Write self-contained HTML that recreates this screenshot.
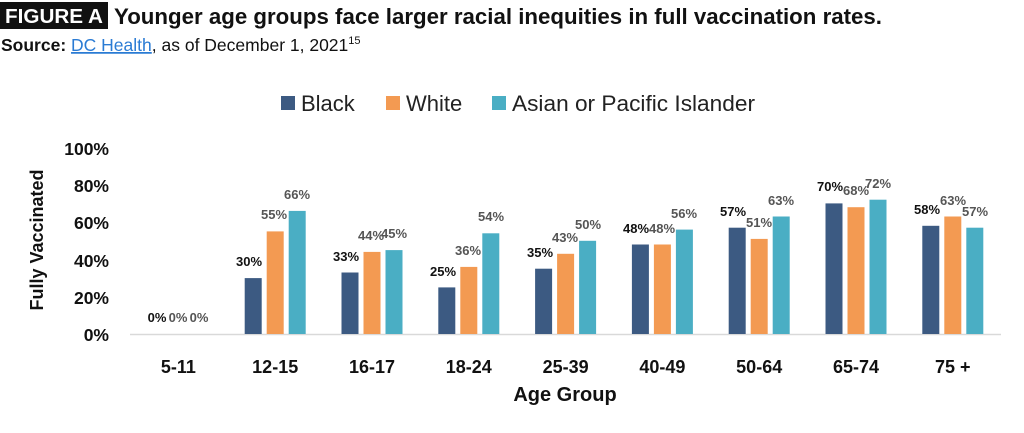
<!DOCTYPE html>
<html><head><meta charset="utf-8"><style>
body{margin:0;background:#fff;width:1024px;height:433px;overflow:hidden;font-family:"Liberation Sans",sans-serif}
</style></head><body>
<svg width="1024" height="433" xmlns="http://www.w3.org/2000/svg" style="position:absolute;left:0;top:0">
<rect x="0" y="2" width="108" height="27" fill="#111"/>
<text x="5" y="23" font-size="20" font-weight="bold" fill="#fff" textLength="98" lengthAdjust="spacingAndGlyphs">FIGURE A</text>
<text x="114" y="24" font-size="22" font-weight="bold" fill="#111" textLength="768" lengthAdjust="spacingAndGlyphs">Younger age groups face larger racial inequities in full vaccination rates.</text>
<text x="1" y="51" font-size="17.5" fill="#111"><tspan font-weight="bold">Source:</tspan> <tspan fill="#2a7bd4" text-decoration="underline">DC Health</tspan>, as of December 1, 2021<tspan font-size="11" dy="-7">15</tspan></text>

<rect x="281" y="96" width="14" height="14" fill="#3c5a82"/>
<text x="301" y="111" font-size="22" fill="#222">Black</text>
<rect x="386" y="96" width="14" height="14" fill="#f39a52"/>
<text x="406" y="111" font-size="22" fill="#222">White</text>
<rect x="492" y="96" width="14" height="14" fill="#4aaec4"/>
<text x="512" y="111" font-size="22" fill="#222" textLength="243" lengthAdjust="spacingAndGlyphs">Asian or Pacific Islander</text>

<g font-size="17.5" font-weight="bold" fill="#111" text-anchor="end">
<text x="109" y="155">100%</text><text x="109" y="192">80%</text><text x="109" y="229">60%</text>
<text x="109" y="267">40%</text><text x="109" y="304">20%</text><text x="109" y="341">0%</text>
</g>
<text transform="translate(43,240) rotate(-90)" font-size="18" font-weight="bold" fill="#111" text-anchor="middle">Fully Vaccinated</text>

<line x1="130" y1="334.5" x2="1001" y2="334.5" stroke="#d9d9d9" stroke-width="1.5"/>

<g>
<rect x="244.7" y="278.1" width="17" height="55.9" fill="#3c5a82"/><rect x="266.7" y="231.4" width="17" height="102.6" fill="#f39a52"/><rect x="288.7" y="210.9" width="17" height="123.1" fill="#4aaec4"/>
<rect x="341.5" y="272.5" width="17" height="61.5" fill="#3c5a82"/><rect x="363.5" y="251.9" width="17" height="82.1" fill="#f39a52"/><rect x="385.5" y="250.1" width="17" height="83.9" fill="#4aaec4"/>
<rect x="438.3" y="287.4" width="17" height="46.6" fill="#3c5a82"/><rect x="460.3" y="266.9" width="17" height="67.1" fill="#f39a52"/><rect x="482.3" y="233.3" width="17" height="100.7" fill="#4aaec4"/>
<rect x="535.1" y="268.7" width="17" height="65.3" fill="#3c5a82"/><rect x="557.1" y="253.8" width="17" height="80.2" fill="#f39a52"/><rect x="579.1" y="240.8" width="17" height="93.2" fill="#4aaec4"/>
<rect x="631.9" y="244.5" width="17" height="89.5" fill="#3c5a82"/><rect x="653.9" y="244.5" width="17" height="89.5" fill="#f39a52"/><rect x="675.9" y="229.6" width="17" height="104.4" fill="#4aaec4"/>
<rect x="728.7" y="227.7" width="17" height="106.3" fill="#3c5a82"/><rect x="750.7" y="238.9" width="17" height="95.1" fill="#f39a52"/><rect x="772.7" y="216.5" width="17" height="117.5" fill="#4aaec4"/>
<rect x="825.5" y="203.4" width="17" height="130.6" fill="#3c5a82"/><rect x="847.5" y="207.2" width="17" height="126.8" fill="#f39a52"/><rect x="869.5" y="199.7" width="17" height="134.3" fill="#4aaec4"/>
<rect x="922.3" y="225.8" width="17" height="108.2" fill="#3c5a82"/><rect x="944.3" y="216.5" width="17" height="117.5" fill="#f39a52"/><rect x="966.3" y="227.7" width="17" height="106.3" fill="#4aaec4"/>
</g>

<g font-size="13" font-weight="bold" text-anchor="middle">
<g fill="#111">
<text x="157" y="322">0%</text>
<text x="249" y="266">30%</text>
<text x="346" y="261">33%</text>
<text x="443" y="276">25%</text>
<text x="540" y="257">35%</text>
<text x="636" y="233">48%</text>
<text x="733" y="216">57%</text>
<text x="830" y="191">70%</text>
<text x="927" y="214">58%</text>
</g>
<g fill="#555">
<text x="178" y="322">0%</text><text x="199" y="322">0%</text>
<text x="274" y="219">55%</text><text x="297" y="199">66%</text>
<text x="371" y="240">44%</text><text x="394" y="238">45%</text>
<text x="468" y="255">36%</text><text x="491" y="221">54%</text>
<text x="565" y="242">43%</text><text x="588" y="229">50%</text>
<text x="662" y="233">48%</text><text x="684" y="218">56%</text>
<text x="759" y="227">51%</text><text x="781" y="205">63%</text>
<text x="856" y="195">68%</text><text x="878" y="188">72%</text>
<text x="953" y="205">63%</text><text x="975" y="216">57%</text>
</g>
</g>

<g font-size="18" font-weight="bold" fill="#111" text-anchor="middle">
<text x="178.4" y="373">5-11</text><text x="275.2" y="373">12-15</text><text x="372" y="373">16-17</text>
<text x="468.8" y="373">18-24</text><text x="565.6" y="373">25-39</text><text x="662.4" y="373">40-49</text>
<text x="759.2" y="373">50-64</text><text x="856" y="373">65-74</text><text x="952.8" y="373">75 +</text>
</g>
<text x="565" y="401" font-size="20" font-weight="bold" fill="#111" text-anchor="middle">Age Group</text>
</svg>
</body></html>
